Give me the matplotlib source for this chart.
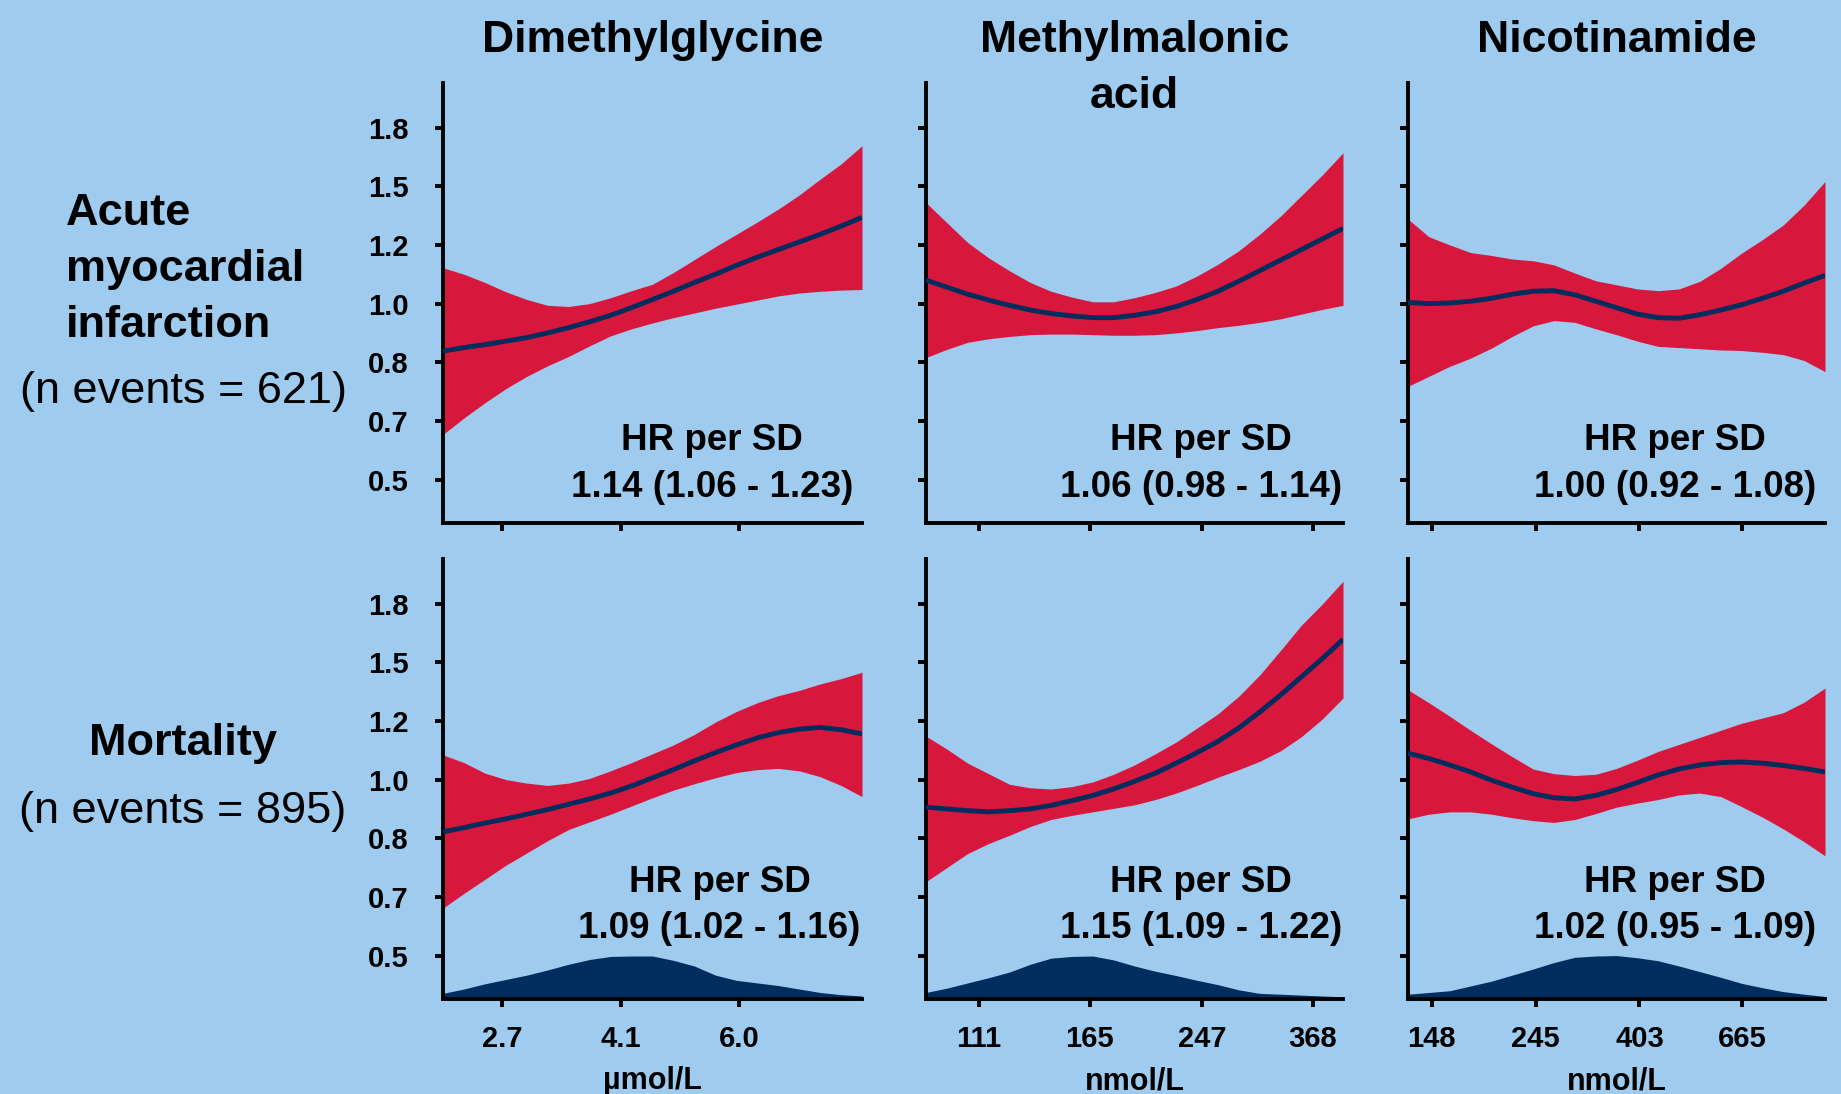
import numpy as np
import matplotlib
matplotlib.use("Agg")
import matplotlib.pyplot as plt

# ---- data (y in axis-position units: 0 -> "0.5" tick, 6 -> "1.8" tick) ----
Y_TICK_LABELS = ["0.5", "0.7", "0.8", "1.0", "1.2", "1.5", "1.8"]
TITLES = [["Dimethylglycine"], ["Methylmalonic", "acid"], ["Nicotinamide"]]
UNITS = ["µmol/L", "nmol/L", "nmol/L"]
X_TICK_POS = [[0.141, 0.425, 0.706], [0.127, 0.393, 0.662, 0.928], [0.057, 0.306, 0.555, 0.801]]
X_TICK_LABELS = [["2.7", "4.1", "6.0"], ["111", "165", "247", "368"], ["148", "245", "403", "665"]]

# position along each x axis (0 = left end, 1 = right end), step 0.05
X = [0.0, 0.05, 0.1, 0.15, 0.2, 0.25, 0.3, 0.35, 0.4, 0.45, 0.5,
     0.55, 0.6, 0.65, 0.7, 0.75, 0.8, 0.85, 0.9, 0.95, 1.0]

# row 0: acute myocardial infarction
dmg_ami_mid = [2.19, 2.25, 2.30, 2.36, 2.42, 2.50, 2.59, 2.69, 2.80, 2.93, 3.07,
               3.21, 3.36, 3.50, 3.65, 3.79, 3.92, 4.05, 4.18, 4.32, 4.47]
dmg_ami_hi = [3.61, 3.50, 3.36, 3.20, 3.07, 2.97, 2.95, 3.00, 3.10, 3.22, 3.33,
              3.53, 3.75, 3.97, 4.18, 4.39, 4.61, 4.85, 5.12, 5.38, 5.69]
dmg_ami_lo = [0.77, 1.05, 1.31, 1.55, 1.76, 1.94, 2.10, 2.28, 2.45, 2.57, 2.67,
              2.76, 2.84, 2.92, 2.99, 3.06, 3.13, 3.18, 3.21, 3.23, 3.24]

mma_ami_mid = [3.40, 3.28, 3.16, 3.06, 2.97, 2.89, 2.83, 2.79, 2.76, 2.76, 2.80,
               2.86, 2.95, 3.07, 3.21, 3.38, 3.56, 3.74, 3.92, 4.10, 4.28]
mma_ami_hi = [4.72, 4.38, 4.04, 3.78, 3.56, 3.36, 3.21, 3.11, 3.03, 3.03, 3.10,
              3.19, 3.30, 3.47, 3.67, 3.90, 4.18, 4.49, 4.84, 5.19, 5.57]
mma_ami_lo = [2.08, 2.22, 2.34, 2.40, 2.44, 2.47, 2.48, 2.48, 2.47, 2.46, 2.46,
              2.47, 2.50, 2.54, 2.59, 2.63, 2.68, 2.74, 2.82, 2.90, 2.97]

nam_ami_mid = [3.02, 3.00, 3.01, 3.04, 3.09, 3.16, 3.21, 3.22, 3.15, 3.04, 2.93,
               2.82, 2.76, 2.75, 2.81, 2.89, 2.98, 3.09, 3.21, 3.35, 3.48]
nam_ami_hi = [4.44, 4.14, 4.00, 3.87, 3.82, 3.76, 3.73, 3.66, 3.52, 3.39, 3.32,
              3.25, 3.22, 3.25, 3.38, 3.60, 3.86, 4.09, 4.34, 4.68, 5.08]
nam_ami_lo = [1.59, 1.76, 1.93, 2.07, 2.24, 2.44, 2.62, 2.71, 2.68, 2.57, 2.47,
              2.36, 2.27, 2.25, 2.23, 2.21, 2.20, 2.17, 2.13, 2.03, 1.84]

# row 1: mortality
dmg_mort_mid = [2.11, 2.18, 2.26, 2.33, 2.41, 2.49, 2.58, 2.67, 2.77, 2.89, 3.03,
                3.17, 3.32, 3.46, 3.59, 3.71, 3.80, 3.86, 3.89, 3.85, 3.78]
dmg_mort_hi = [3.42, 3.29, 3.11, 3.00, 2.94, 2.90, 2.94, 3.02, 3.15, 3.29, 3.44,
               3.59, 3.77, 3.98, 4.16, 4.31, 4.43, 4.52, 4.63, 4.72, 4.83]
dmg_mort_lo = [0.81, 1.06, 1.30, 1.54, 1.75, 1.96, 2.15, 2.28, 2.41, 2.55, 2.69,
               2.82, 2.93, 3.03, 3.12, 3.17, 3.19, 3.15, 3.05, 2.90, 2.71]

mma_mort_mid = [2.53, 2.50, 2.47, 2.45, 2.47, 2.50, 2.56, 2.64, 2.73, 2.84, 2.97,
                3.11, 3.28, 3.46, 3.65, 3.88, 4.15, 4.44, 4.75, 5.06, 5.39]
mma_mort_hi = [3.74, 3.52, 3.28, 3.10, 2.92, 2.86, 2.84, 2.88, 2.96, 3.09, 3.25,
               3.44, 3.64, 3.88, 4.12, 4.42, 4.78, 5.20, 5.63, 5.99, 6.38]
mma_mort_lo = [1.26, 1.50, 1.74, 1.91, 2.05, 2.20, 2.32, 2.39, 2.45, 2.51, 2.57,
               2.66, 2.77, 2.90, 3.04, 3.17, 3.31, 3.49, 3.73, 4.03, 4.39]

nam_mort_mid = [3.45, 3.36, 3.25, 3.13, 2.99, 2.87, 2.76, 2.69, 2.67, 2.73, 2.83,
                2.95, 3.08, 3.18, 3.25, 3.29, 3.30, 3.28, 3.24, 3.19, 3.13]
nam_mort_hi = [4.53, 4.31, 4.08, 3.84, 3.61, 3.39, 3.18, 3.10, 3.07, 3.09, 3.19,
               3.33, 3.48, 3.60, 3.72, 3.84, 3.96, 4.05, 4.14, 4.32, 4.56]
nam_mort_lo = [2.33, 2.41, 2.45, 2.45, 2.41, 2.35, 2.30, 2.27, 2.32, 2.42, 2.53,
               2.60, 2.66, 2.74, 2.77, 2.71, 2.54, 2.36, 2.16, 1.94, 1.70]

# relative concentration distributions (shown under the mortality panels)
dmg_dens = [0.13, 0.23, 0.35, 0.45, 0.55, 0.67, 0.80, 0.91, 0.98, 0.99, 0.99,
            0.89, 0.76, 0.55, 0.43, 0.37, 0.31, 0.23, 0.15, 0.10, 0.07]
mma_dens = [0.15, 0.25, 0.37, 0.49, 0.62, 0.80, 0.94, 0.98, 0.99, 0.90, 0.76,
            0.64, 0.54, 0.43, 0.33, 0.21, 0.13, 0.11, 0.09, 0.07, 0.05]
nam_dens = [0.11, 0.15, 0.19, 0.30, 0.41, 0.55, 0.69, 0.84, 0.96, 0.99, 1.00,
            0.95, 0.88, 0.76, 0.63, 0.50, 0.36, 0.26, 0.17, 0.11, 0.06]

HR_TEXT = [["1.14 (1.06 - 1.23)", "1.06 (0.98 - 1.14)", "1.00 (0.92 - 1.08)"],
           ["1.09 (1.02 - 1.16)", "1.15 (1.09 - 1.22)", "1.02 (0.95 - 1.09)"]]

CURVES = [[(dmg_ami_mid, dmg_ami_lo, dmg_ami_hi), (mma_ami_mid, mma_ami_lo, mma_ami_hi),
           (nam_ami_mid, nam_ami_lo, nam_ami_hi)],
          [(dmg_mort_mid, dmg_mort_lo, dmg_mort_hi), (mma_mort_mid, mma_mort_lo, mma_mort_hi),
           (nam_mort_mid, nam_mort_lo, nam_mort_hi)]]
DENS = [dmg_dens, mma_dens, nam_dens]

# ---- style ----
BG, RED, NAVY, INK = "#9ECBEE", "#D8173D", "#002C5E", "black"
FONT = ["Liberation Sans", "DejaVu Sans"]
W, H = 1841, 1094
COLS = [(443, 862), (926, 1343), (1408, 1825)]   # pixel extents of each axes
ROWS = [(83, 523), (559, 999)]
YLIM = (-0.74, 6.76)
DENS_H = 0.74
HR_Y = [(0.166, 0.059), (0.243, 0.139)]
HR_X = [[0.642, 0.66, 0.64], [0.66, 0.66, 0.64]]

plt.rcParams["font.family"] = FONT

fig = plt.figure(figsize=(W / 100, H / 100), dpi=100)
fig.patch.set_facecolor(BG)

for r, (ytop, ybot) in enumerate(ROWS):
    for c, (x0, x1) in enumerate(COLS):
        ax = fig.add_axes([x0 / W, 1 - ybot / H, (x1 - x0) / W, (ybot - ytop) / H])
        ax.set_facecolor(BG)
        mid, lo, hi = CURVES[r][c]
        ax.fill_between(X, lo, hi, color=RED, lw=0, zorder=2)
        ax.plot(X, mid, color=NAVY, lw=3.5, solid_joinstyle="round",
                solid_capstyle="butt", zorder=3)
        if r == 1:
            d = YLIM[0] + DENS_H * np.asarray(DENS[c])
            ax.fill_between(X, YLIM[0], d, color=NAVY, lw=0, zorder=2)
        ax.set_xlim(0, 1.0)
        ax.set_ylim(*YLIM)
        for s in ("top", "right"):
            ax.spines[s].set_visible(False)
        for s in ("left", "bottom"):
            ax.spines[s].set_linewidth(2.8)
            ax.spines[s].set_color(INK)
        ax.set_yticks(range(len(Y_TICK_LABELS)))
        ax.set_xticks(X_TICK_POS[c])
        ax.tick_params(length=6, width=2.8, color=INK)
        ax.tick_params(axis="y", pad=19)
        ax.tick_params(axis="x", pad=13)
        if c == 0:
            ax.set_yticklabels(Y_TICK_LABELS, fontsize=21, fontweight="bold")
        else:
            ax.set_yticklabels([])
        if r == 1:
            ax.set_xticklabels(X_TICK_LABELS[c], fontsize=21, fontweight="bold")
        else:
            ax.set_xticklabels([])
        ax.text(HR_X[r][c], HR_Y[r][0], "HR per SD", transform=ax.transAxes,
                ha="center", va="baseline", fontsize=26.5, fontweight="bold")
        ax.text(HR_X[r][c], HR_Y[r][1], HR_TEXT[r][c], transform=ax.transAxes,
                ha="center", va="baseline", fontsize=26.5, fontweight="bold")

# column titles and units
for c, (x0, x1) in enumerate(COLS):
    xc = (x0 + x1) / 2 / W
    for i, line in enumerate(TITLES[c]):
        fig.text(xc, 1 - (52 + 56 * i) / H, line, ha="center", va="baseline",
                 fontsize=32, fontweight="bold")
    fig.text(xc, 1 - 1089 / H, UNITS[c], ha="center", va="baseline",
             fontsize=22, fontweight="bold")

# row labels
for i, line in enumerate(["Acute", "myocardial", "infarction"]):
    fig.text(66 / W, 1 - (225 + 56 * i) / H, line, ha="left", va="baseline",
             fontsize=32.5, fontweight="bold")
fig.text(183 / W, 1 - 403 / H, "(n events = 621)", ha="center", va="baseline", fontsize=32.5)
fig.text(183 / W, 1 - 755 / H, "Mortality", ha="center", va="baseline",
         fontsize=32.5, fontweight="bold")
fig.text(183 / W, 1 - 823 / H, "(n events = 895)", ha="center", va="baseline", fontsize=32.5)

fig.savefig("out.png", dpi=100, facecolor=BG)
